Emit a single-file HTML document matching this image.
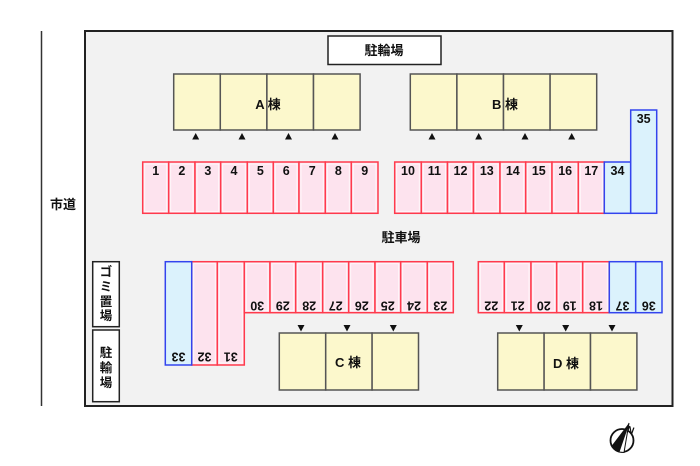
<!DOCTYPE html>
<html><head><meta charset="utf-8"><style>
html,body{margin:0;padding:0;background:#fff;}
svg{display:block;}
text{font-family:"Liberation Sans","Noto Sans CJK JP",sans-serif;font-weight:bold;fill:#111;}
</style></head><body>
<svg width="700" height="466" viewBox="0 0 700 466" xmlns="http://www.w3.org/2000/svg">
<rect x="0" y="0" width="700" height="466" fill="#fff"/>
<!-- road -->
<line x1="41.5" y1="31" x2="41.5" y2="406" stroke="#333" stroke-width="1.5"/>
<text x="63" y="209" font-size="13" text-anchor="middle">市道</text>
<!-- frame -->
<rect x="85" y="31" width="587.5" height="375" fill="#f2f2f2" stroke="#222" stroke-width="2"/>
<!-- bike parking top -->
<rect x="328" y="36" width="113" height="28.5" fill="#fff" stroke="#222" stroke-width="1.5"/>
<text x="384" y="55" font-size="13" text-anchor="middle">駐輪場</text>

<!-- buildings -->
<g fill="#fcf8cc" stroke="#555" stroke-width="1.5">
<rect x="173.7" y="74" width="46.6" height="56"/>
<rect x="220.3" y="74" width="46.6" height="56"/>
<rect x="266.9" y="74" width="46.6" height="56"/>
<rect x="313.5" y="74" width="46.6" height="56"/>
<rect x="410.3" y="74" width="46.6" height="56"/>
<rect x="456.9" y="74" width="46.6" height="56"/>
<rect x="503.5" y="74" width="46.6" height="56"/>
<rect x="550.1" y="74" width="46.6" height="56"/>
<rect x="279.3" y="333" width="46.4" height="57"/>
<rect x="325.7" y="333" width="46.4" height="57"/>
<rect x="372.1" y="333" width="46.4" height="57"/>
<rect x="497.7" y="333" width="46.4" height="57"/>
<rect x="544.1" y="333" width="46.4" height="57"/>
<rect x="590.5" y="333" width="46.4" height="57"/>
</g>
<text x="268" y="109" font-size="13" text-anchor="middle">A 棟</text>
<text x="505" y="109" font-size="13" text-anchor="middle">B 棟</text>
<text x="348" y="367" font-size="13" text-anchor="middle">C 棟</text>
<text x="566" y="368" font-size="13" text-anchor="middle">D 棟</text>

<!-- triangles -->
<g fill="#111">
<polygon points="192.2,139.5 199.2,139.5 195.7,133"/>
<polygon points="238.5,139.5 245.5,139.5 242,133"/>
<polygon points="285,139.5 292,139.5 288.5,133"/>
<polygon points="331.5,139.5 338.5,139.5 335,133"/>
<polygon points="428.5,139.5 435.5,139.5 432,133"/>
<polygon points="475.2,139.5 482.2,139.5 478.7,133"/>
<polygon points="521.5,139.5 528.5,139.5 525,133"/>
<polygon points="568.2,139.5 575.2,139.5 571.7,133"/>
<polygon points="297.5,325 304.5,325 301,331.5"/>
<polygon points="343.5,325 350.5,325 347,331.5"/>
<polygon points="389.8,325 396.8,325 393.3,331.5"/>
<polygon points="515.8,325 522.8,325 519.3,331.5"/>
<polygon points="562.2,325 569.2,325 565.7,331.5"/>
<polygon points="608.5,325 615.5,325 612,331.5"/>
</g>

<!-- spaces -->
<g stroke-width="1.5">
<g fill="#fde3ee" stroke="#ff3a4c">
<rect x="142.7" y="162" width="26" height="51.3"/>
<rect x="168.7" y="162" width="26.3" height="51.3"/>
<rect x="195" y="162" width="25.7" height="51.3"/>
<rect x="220.7" y="162" width="26.6" height="51.3"/>
<rect x="247.3" y="162" width="26" height="51.3"/>
<rect x="273.3" y="162" width="25.7" height="51.3"/>
<rect x="299" y="162" width="26.3" height="51.3"/>
<rect x="325.3" y="162" width="26" height="51.3"/>
<rect x="351.3" y="162" width="26.7" height="51.3"/>
<rect x="394.7" y="162" width="26.6" height="51.3"/>
<rect x="421.3" y="162" width="26.2" height="51.3"/>
<rect x="447.5" y="162" width="26" height="51.3"/>
<rect x="473.5" y="162" width="26.5" height="51.3"/>
<rect x="500" y="162" width="25.7" height="51.3"/>
<rect x="525.7" y="162" width="26.3" height="51.3"/>
<rect x="552" y="162" width="26.3" height="51.3"/>
<rect x="578.3" y="162" width="26" height="51.3"/>
<rect x="191.7" y="261.7" width="25.6" height="103.3"/>
<rect x="217.3" y="261.7" width="27" height="103.3"/>
<rect x="244.3" y="261.7" width="25.7" height="51"/>
<rect x="270" y="261.7" width="25.7" height="51"/>
<rect x="295.7" y="261.7" width="27" height="51"/>
<rect x="322.7" y="261.7" width="26" height="51"/>
<rect x="348.7" y="261.7" width="26.3" height="51"/>
<rect x="375" y="261.7" width="25.7" height="51"/>
<rect x="400.7" y="261.7" width="26.6" height="51"/>
<rect x="427.3" y="261.7" width="26" height="51"/>
<rect x="478.3" y="261.7" width="26" height="51"/>
<rect x="504.3" y="261.7" width="26.7" height="51"/>
<rect x="531" y="261.7" width="25.7" height="51"/>
<rect x="556.7" y="261.7" width="26" height="51"/>
<rect x="582.7" y="261.7" width="26.6" height="51"/>
</g>
<g fill="#dbf2fc" stroke="#3344ee">
<rect x="604.3" y="162" width="26.4" height="51.3"/>
<rect x="630.7" y="110" width="26" height="103.3"/>
<rect x="165.3" y="261.7" width="26.4" height="103.3"/>
<rect x="609.3" y="261.7" width="26.4" height="51"/>
<rect x="635.7" y="261.7" width="26.3" height="51"/>
</g>
</g>
<g fill="none" stroke="#fff" stroke-width="0.8" opacity="0.9">
<rect x="144.7" y="164" width="22" height="47.3"/>
<rect x="170.7" y="164" width="22.3" height="47.3"/>
<rect x="197" y="164" width="21.7" height="47.3"/>
<rect x="222.7" y="164" width="22.6" height="47.3"/>
<rect x="249.3" y="164" width="22" height="47.3"/>
<rect x="275.3" y="164" width="21.7" height="47.3"/>
<rect x="301" y="164" width="22.3" height="47.3"/>
<rect x="327.3" y="164" width="22" height="47.3"/>
<rect x="353.3" y="164" width="22.7" height="47.3"/>
<rect x="396.7" y="164" width="22.6" height="47.3"/>
<rect x="423.3" y="164" width="22.2" height="47.3"/>
<rect x="449.5" y="164" width="22" height="47.3"/>
<rect x="475.5" y="164" width="22.5" height="47.3"/>
<rect x="502" y="164" width="21.7" height="47.3"/>
<rect x="527.7" y="164" width="22.3" height="47.3"/>
<rect x="554" y="164" width="22.3" height="47.3"/>
<rect x="580.3" y="164" width="22" height="47.3"/>
<rect x="193.7" y="263.7" width="21.6" height="99.3"/>
<rect x="219.3" y="263.7" width="23" height="99.3"/>
<rect x="246.3" y="263.7" width="21.7" height="47"/>
<rect x="272" y="263.7" width="21.7" height="47"/>
<rect x="297.7" y="263.7" width="23" height="47"/>
<rect x="324.7" y="263.7" width="22" height="47"/>
<rect x="350.7" y="263.7" width="22.3" height="47"/>
<rect x="377" y="263.7" width="21.7" height="47"/>
<rect x="402.7" y="263.7" width="22.6" height="47"/>
<rect x="429.3" y="263.7" width="22" height="47"/>
<rect x="480.3" y="263.7" width="22" height="47"/>
<rect x="506.3" y="263.7" width="22.7" height="47"/>
<rect x="533" y="263.7" width="21.7" height="47"/>
<rect x="558.7" y="263.7" width="22" height="47"/>
<rect x="584.7" y="263.7" width="22.6" height="47"/>
</g>

<!-- top numbers -->
<g font-size="12.5" text-anchor="middle">
<text x="155.7" y="175">1</text>
<text x="181.8" y="175">2</text>
<text x="207.8" y="175">3</text>
<text x="234" y="175">4</text>
<text x="260.3" y="175">5</text>
<text x="286.2" y="175">6</text>
<text x="312.2" y="175">7</text>
<text x="338.3" y="175">8</text>
<text x="364.7" y="175">9</text>
<text x="408" y="175">10</text>
<text x="434.4" y="175">11</text>
<text x="460.5" y="175">12</text>
<text x="486.8" y="175">13</text>
<text x="512.8" y="175">14</text>
<text x="538.8" y="175">15</text>
<text x="565.2" y="175">16</text>
<text x="591.3" y="175">17</text>
<text x="617.5" y="175">34</text>
<text x="643.7" y="123">35</text>
</g>
<!-- bottom numbers (upside down) -->
<g font-size="12.5" text-anchor="middle">
<text transform="translate(178.5,357) rotate(180)" y="4.5">33</text>
<text transform="translate(204.5,357) rotate(180)" y="4.5">32</text>
<text transform="translate(230.8,357) rotate(180)" y="4.5">31</text>
<text transform="translate(257.2,306) rotate(180)" y="4.5">30</text>
<text transform="translate(282.8,306) rotate(180)" y="4.5">29</text>
<text transform="translate(309.2,306) rotate(180)" y="4.5">28</text>
<text transform="translate(335.7,306) rotate(180)" y="4.5">27</text>
<text transform="translate(361.8,306) rotate(180)" y="4.5">26</text>
<text transform="translate(387.8,306) rotate(180)" y="4.5">25</text>
<text transform="translate(414,306) rotate(180)" y="4.5">24</text>
<text transform="translate(440.3,306) rotate(180)" y="4.5">23</text>
<text transform="translate(491.3,306) rotate(180)" y="4.5">22</text>
<text transform="translate(517.7,306) rotate(180)" y="4.5">21</text>
<text transform="translate(543.8,306) rotate(180)" y="4.5">20</text>
<text transform="translate(569.7,306) rotate(180)" y="4.5">19</text>
<text transform="translate(596,306) rotate(180)" y="4.5">18</text>
<text transform="translate(622.5,306) rotate(180)" y="4.5">37</text>
<text transform="translate(648.8,306) rotate(180)" y="4.5">36</text>
</g>

<text x="401" y="242" font-size="13" text-anchor="middle">駐車場</text>

<!-- left boxes -->
<rect x="92.7" y="261.7" width="26.6" height="65" fill="#fff" stroke="#222" stroke-width="1.5"/>
<rect x="92.7" y="330" width="26.6" height="71.7" fill="#fff" stroke="#222" stroke-width="1.5"/>
<g font-size="12.5" text-anchor="middle">
<text x="106" y="276">ゴ</text>
<text x="106" y="291">ミ</text>
<text x="106" y="306">置</text>
<text x="106" y="320">場</text>
<text x="106" y="357">駐</text>
<text x="106" y="372">輸</text>
<text x="106" y="387">場</text>
</g>

<!-- compass -->
<circle cx="622" cy="440.5" r="11.5" fill="#fff" stroke="#111" stroke-width="1.8"/>
<polygon points="629,423 611.5,446 619,452" fill="#111"/>
<polygon points="629,423 619,452 624,452.5" fill="#fff" stroke="#111" stroke-width="1"/>
<text x="0" y="0" font-size="10" font-weight="normal" transform="translate(626,432) rotate(20)">N</text>
</svg>
</body></html>
